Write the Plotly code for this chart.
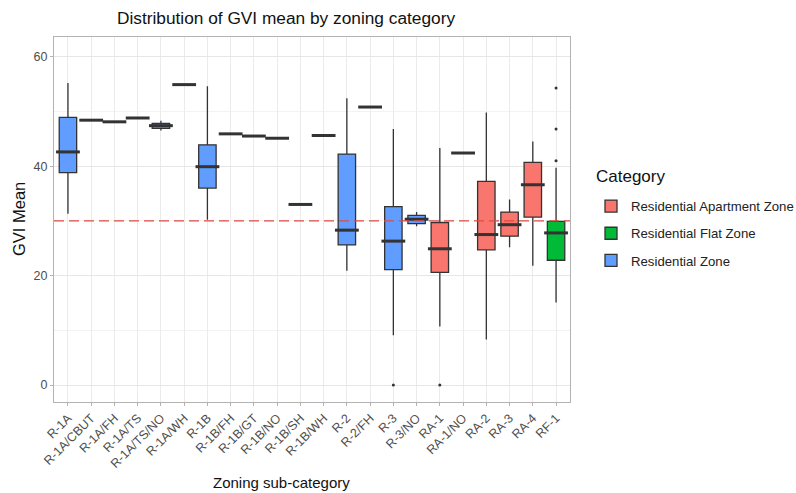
import plotly.graph_objects as go

categories = ["R-1A", "R-1A/CBUT", "R-1A/FH", "R-1A/TS", "R-1A/TS/NO", "R-1A/WH",
              "R-1B", "R-1B/FH", "R-1B/GT", "R-1B/NO", "R-1B/SH", "R-1B/WH",
              "R-2", "R-2/FH", "R-3", "R-3/NO", "RA-1", "RA-1/NO", "RA-2", "RA-3",
              "RA-4", "RF-1"]
zone_group = ["Residential Zone"] * 16 + ["Residential Apartment Zone"] * 5 + ["Residential Flat Zone"]

lower_fence = [31.3, 48.4, 48.1, 48.8, 46.5, 54.9, 30.2, 45.9, 45.5, 45.1, 33.0, 45.6,
               20.9, 50.8, 9.1, 29.0, 10.7, 42.4, 8.3, 25.2, 21.8, 15.1]
q1 = [38.8, 48.4, 48.1, 48.8, 46.9, 54.9, 36.0, 45.9, 45.5, 45.1, 33.0, 45.6,
      25.6, 50.8, 21.1, 29.5, 20.6, 42.4, 24.7, 27.2, 30.7, 22.8]
median = [42.6, 48.4, 48.1, 48.8, 47.4, 54.9, 39.9, 45.9, 45.5, 45.1, 33.0, 45.6,
          28.3, 50.8, 26.3, 30.3, 24.9, 42.4, 27.5, 29.3, 36.6, 27.8]
q3 = [48.9, 48.4, 48.1, 48.8, 47.8, 54.9, 43.9, 45.9, 45.5, 45.1, 33.0, 45.6,
      42.2, 50.8, 32.6, 31.0, 29.7, 42.4, 37.2, 31.6, 40.7, 29.9]
upper_fence = [55.2, 48.4, 48.1, 48.8, 48.3, 54.9, 54.6, 45.9, 45.5, 45.1, 33.0, 45.6,
               52.4, 50.8, 46.8, 31.6, 43.3, 42.4, 49.8, 33.9, 44.5, 39.7]

outlier_x = ["R-3", "RA-1", "RF-1", "RF-1", "RF-1"]
outlier_y = [0.0, 0.0, 54.3, 46.8, 41.0]

threshold = 30

group_order = ["Residential Apartment Zone", "Residential Flat Zone", "Residential Zone"]
group_colors = {"Residential Apartment Zone": "#F8766D",
                "Residential Flat Zone": "#00BA38",
                "Residential Zone": "#619CFF"}

n = len(categories)
W, H = 796, 493
L, R, T, B = 54, 226, 37, 91
PW, PH = W - L - R, H - T - B


def px_x(px):
    return (px - L) / PW


def px_y(py):
    return (H - B - py) / PH


fig = go.Figure()
for g in group_order:
    idx = [i for i in range(n) if zone_group[i] == g]
    fig.add_trace(go.Box(
        name=g,
        legendgroup=g,
        x=[categories[i] for i in idx],
        q1=[q1[i] for i in idx],
        median=[median[i] for i in idx],
        q3=[q3[i] for i in idx],
        lowerfence=[lower_fence[i] for i in idx],
        upperfence=[upper_fence[i] for i in idx],
        fillcolor=group_colors[g],
        line=dict(color="#333333", width=1.3),
        whiskerwidth=0,
        width=0.75,
        boxpoints=False,
        hoverinfo="skip",
    ))

# thicker median lines (ggplot-style)
fig.add_trace(go.Scatter(
    x=categories, y=median, mode="markers", showlegend=False, hoverinfo="skip",
    marker=dict(symbol="line-ew", size=17, line=dict(color="#333333", width=3)),
))

# outliers
fig.add_trace(go.Scatter(
    x=outlier_x, y=outlier_y, mode="markers", showlegend=False, hoverinfo="skip",
    marker=dict(size=3, color="#333333"),
))

fig.add_hline(y=threshold, line=dict(color="#E04A44", width=1.2, dash="10px,5px"))

fig.add_annotation(text="Zoning sub-category", xref="paper", yref="paper",
                   x=px_x(281), y=px_y(482),
                   xanchor="center", yanchor="middle", showarrow=False,
                   font=dict(size=15, color="#111111"))
fig.add_annotation(text="GVI Mean", xref="paper", yref="paper",
                   x=px_x(19), y=px_y(219), textangle=-90,
                   xanchor="center", yanchor="middle", showarrow=False,
                   font=dict(size=16.5, color="#111111"))
fig.add_annotation(text="Category", xref="paper", yref="paper",
                   x=px_x(594), y=px_y(176),
                   xanchor="left", yanchor="middle", showarrow=False,
                   font=dict(size=17, color="#111111"))

fig.update_layout(
    width=W, height=H,
    margin=dict(l=L, r=R, t=T, b=B, autoexpand=False),
    paper_bgcolor="white", plot_bgcolor="white",
    font=dict(family="Liberation Sans, Arial, sans-serif", color="#222222"),
    title=dict(text="Distribution of GVI mean by zoning category",
               x=286 / W, xanchor="center", xref="container",
               y=1 - 18 / H, yanchor="middle", yref="container",
               font=dict(size=17.3, color="#111111")),
    boxmode="overlay",
    legend=dict(x=px_x(591), xanchor="left",
                y=px_y(191), yanchor="top",
                font=dict(size=13.2, color="#222222"), tracegroupgap=7,
                bgcolor="rgba(0,0,0,0)"),
    showlegend=True,
)

fig.update_xaxes(
    type="category", categoryorder="array", categoryarray=categories,
    range=[-0.6, n - 0.4],
    tickangle=-45, tickfont=dict(size=12.5, color="#4D4D4D"),
    ticks="outside", ticklen=3, tickcolor="#B3B3B3",
    showgrid=True, gridcolor="#EBEBEB", gridwidth=1,
    showline=True, mirror=True, linecolor="#B3B3B3", linewidth=1,
    automargin=False,
    zeroline=False,
)
fig.update_yaxes(
    range=[-3.1, 63.6], tickvals=[0, 20, 40, 60],
    tickfont=dict(size=12.5, color="#4D4D4D"),
    ticks="outside", ticklen=3, tickcolor="#B3B3B3",
    showgrid=True, gridcolor="#E6E6E6", gridwidth=1,
    minor=dict(tickvals=[10, 30, 50], showgrid=True, gridcolor="#F3F3F3", gridwidth=1, ticks=""),
    showline=True, mirror=True, linecolor="#B3B3B3", linewidth=1,
    automargin=False,
    zeroline=False,
)

fig.write_html("out.html")
